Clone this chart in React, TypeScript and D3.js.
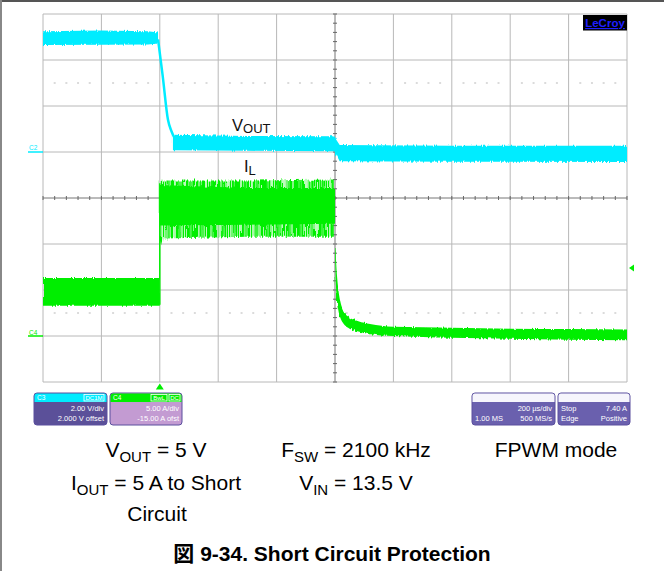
import React from 'react';
import * as d3 from 'd3';

const W = 664;
const H = 571;

// Axis domains (scope settings): 200 µs/div, C3 2 V/div (offset 2 V), C4 5 A/div (offset -15 A)
const TIME_DOMAIN = [-400, 1600];
const VOLT_DOMAIN = [-10, 6];
const AMP_DOMAIN = [-5, 35];
const TIME_GRID = [-400, -200, 0, 200, 400, 600, 800, 1000, 1200, 1400, 1600];
const VOLT_GRID = [-10, -8, -6, -4, -2, 0, 2, 4, 6];
const DOT_LEVELS_V = [3, -7];
const TRIGGER_LEVEL_A = 7.4;

// VOUT (C3) envelopes: [time µs, max V, min V]
const VOUT_PRE = [[-400, 5.25, 4.65], [-200, 5.28, 4.66], [-40, 5.25, 4.67], [-6, 5.2, 4.72]];
const VOUT_DROP = [[-6, 4.9], [10, 3.3], [28, 1.4], [40, 0.9], [50, 0.62], [62, 0.45]];
const VOUT_POST = [[45, 0.75, 0.08], [300, 0.7, 0.05], [598, 0.68, 0.03], [606, 0.5, -0.15], [616, 0.3, -0.4], [1000, 0.27, -0.42], [1600, 0.27, -0.44]];

// IL (C4) envelopes: [time µs, max A, min A]
const IL_PRE = [[-400, 6.3, 3.3], [0, 6.3, 3.3]];
const IL_RISE = [[0, 3.4], [0, 16.6]];
const IL_SHORT_OUTER = [[0, 16.8, 9.3], [10, 16.9, 10.6], [300, 16.9, 10.8], [600, 17.0, 10.8]];
const IL_SHORT_INNER = [[0, 16.4, 12.0], [300, 16.1, 12.1], [600, 16.1, 12.2]];
const IL_DECAY = [
  [600, 11.0, 9.0], [604, 8.0, 5.0], [610, 5.5, 3.0], [618, 3.8, 2.0], [630, 2.7, 1.3],
  [650, 2.0, 0.8], [680, 1.6, 0.5], [720, 1.3, 0.2], [800, 1.0, 0.0], [900, 0.95, -0.1],
  [1000, 0.9, -0.2], [1200, 0.8, -0.3], [1400, 0.75, -0.4], [1600, 0.7, -0.45],
];

const CYAN = '#00ecff';
const GREEN = '#00ee00';
const FONT = '"Liberation Sans", Arial, sans-serif';

export default function App() {
  const x = d3.scaleLinear().domain(TIME_DOMAIN).range([43, 627]);
  const yV = d3.scaleLinear().domain(VOLT_DOMAIN).range([382, 14]);
  const yI = d3.scaleLinear().domain(AMP_DOMAIN).range([382, 14]);

  const areaV = d3.area<number[]>().x(d => x(d[0])).y0(d => yV(d[2])).y1(d => yV(d[1]));
  const areaI = d3.area<number[]>().x(d => x(d[0])).y0(d => yI(d[2])).y1(d => yI(d[1]));
  const lineV = d3.line<number[]>().x(d => x(d[0])).y(d => yV(d[1])).curve(d3.curveMonotoneX);
  const lineI = d3.line<number[]>().x(d => x(d[0])).y(d => yI(d[1]));
  const areaIDecay = d3.area<number[]>().x(d => x(d[0])).y0(d => yI(d[2])).y1(d => yI(d[1])).curve(d3.curveMonotoneX);

  const minorT = d3.range(TIME_DOMAIN[0], TIME_DOMAIN[1] + 1, 40);
  const minorV = d3.range(VOLT_DOMAIN[0], VOLT_DOMAIN[1] + 0.01, 0.4);
  const centerT = 600;
  const centerV = -2;
  const left = x(TIME_DOMAIN[0]), right = x(TIME_DOMAIN[1]);
  const top = yV(VOLT_DOMAIN[1]), bottom = yV(VOLT_DOMAIN[0]);

  const box = (bx: number, by: number, bw: number, header: string, body: string) => (
    <g>
      <rect x={bx} y={by} width={bw} height={32} rx={3} fill={body} stroke="#5a4f9e" strokeWidth={1} />
      <path d={`M${bx + 0.5},${by + 9} V${by + 3} a2.5,2.5 0 0 1 2.5,-2.5 H${bx + bw - 3} a2.5,2.5 0 0 1 2.5,2.5 V${by + 9} Z`} fill={header} />
    </g>
  );
  const smallText = { fontFamily: FONT, fontSize: 7.5, fill: '#ffffff' } as const;

  return (
    <svg width={W} height={H} style={{ position: 'absolute', left: 0, top: 0, background: '#fff' }}>
      <defs>
        <filter id="noise" filterUnits="userSpaceOnUse" x={0} y={0} width={W} height={H}>
          <feTurbulence type="fractalNoise" baseFrequency="0.9 0.04" numOctaves={1} seed={3} result="t" />
          <feDisplacementMap in="SourceGraphic" in2="t" scale={4} xChannelSelector="R" yChannelSelector="G" />
        </filter>
        <filter id="noise2" filterUnits="userSpaceOnUse" x={0} y={0} width={W} height={H}>
          <feTurbulence type="fractalNoise" baseFrequency="0.7 0.03" numOctaves={1} seed={7} result="t" />
          <feDisplacementMap in="SourceGraphic" in2="t" scale={6} xChannelSelector="R" yChannelSelector="G" />
        </filter>
        <pattern id="spikes" width={2.2} height={10} patternUnits="userSpaceOnUse">
          <rect width={1.6} height={10} fill={GREEN} />
        </pattern>
      </defs>

      {/* outer frame */}
      <line x1={0} x2={W} y1={1} y2={1} stroke="#555" strokeWidth={2} />
      <line x1={1} x2={1} y1={0} y2={H} stroke="#888" strokeWidth={2} />

      {/* grid */}
      <g stroke="#b8b8b8" strokeWidth={1}>
        {TIME_GRID.map(t => (
          <line key={'gx' + t} x1={x(t)} x2={x(t)} y1={top} y2={bottom} stroke={t === centerT ? '#777' : undefined} />
        ))}
        {VOLT_GRID.map(v => (
          <line key={'gy' + v} x1={left} x2={right} y1={yV(v)} y2={yV(v)} stroke={v === centerV ? '#777' : undefined} />
        ))}
      </g>
      <g stroke="#666" strokeWidth={1}>
        {minorT.map(t => (
          <line key={'mt' + t} x1={x(t)} x2={x(t)} y1={yV(centerV) - 2} y2={yV(centerV) + 2} />
        ))}
        {minorV.map(v => (
          <line key={'mv' + v} x1={x(centerT) - 2} x2={x(centerT) + 2} y1={yV(v)} y2={yV(v)} />
        ))}
      </g>
      <g fill="#c4c4c4">
        {DOT_LEVELS_V.map(lv =>
          minorT.filter(t => (t - TIME_DOMAIN[0]) % 200 !== 0).map(t => (
            <rect key={'d' + lv + t} x={x(t) - 1} y={yV(lv) - 0.6} width={2} height={1.2} />
          ))
        )}
      </g>

      {/* VOUT trace */}
      <g filter="url(#noise)">
        <path d={areaV(VOUT_PRE) || ''} fill={CYAN} />
        <path d={areaV(VOUT_POST) || ''} fill={CYAN} />
      </g>
      <path d={lineV(VOUT_DROP) || ''} fill="none" stroke={CYAN} strokeWidth={2.5} />

      {/* IL trace */}
      <g filter="url(#noise)">
        <path d={areaI(IL_PRE) || ''} fill={GREEN} />
      </g>
      <g filter="url(#noise2)">
        <path d={areaI(IL_SHORT_OUTER) || ''} fill="url(#spikes)" />
      </g>
      <g filter="url(#noise)">
        <path d={areaI(IL_SHORT_INNER) || ''} fill={GREEN} />
        <path d={areaIDecay(IL_DECAY) || ''} fill={GREEN} />
      </g>
      <path d={lineI(IL_RISE) || ''} fill="none" stroke={GREEN} strokeWidth={1.5} />

      {/* trace labels */}
      <text x={232} y={131} fontFamily={FONT} fontSize={16.5} fill="#111">
        V<tspan fontSize={13} dy={2}>OUT</tspan>
      </text>
      <text x={244} y={172} fontFamily={FONT} fontSize={16.5} fill="#111">
        I<tspan fontSize={13} dy={3}>L</tspan>
      </text>

      {/* channel markers */}
      <text x={29} y={150} fontFamily={FONT} fontSize={6.5} fill={CYAN}>C2</text>
      <line x1={28} x2={43} y1={yV(0)} y2={yV(0)} stroke={CYAN} strokeWidth={1.5} />
      <text x={29} y={335} fontFamily={FONT} fontSize={6.5} fill={GREEN}>C4</text>
      <line x1={28} x2={43} y1={yI(0)} y2={yI(0)} stroke={GREEN} strokeWidth={1.5} />
      <path d={`M${right + 2},${yI(TRIGGER_LEVEL_A)} l5,-3.5 v7 Z`} fill={GREEN} />
      <path d={`M${x(0)},${bottom + 1.5} l-4,6 h8 Z`} fill={GREEN} />

      {/* LeCroy logo */}
      <rect x={583} y={15} width={44} height={15.5} fill="#000" />
      <text x={605} y={27} textAnchor="middle" fontFamily={FONT} fontSize={11.5} fontWeight="bold" fill="#1f1fff" textDecoration="underline">LeCroy</text>

      {/* info boxes */}
      {box(34, 393, 73, CYAN, '#5b5099')}
      <text x={37} y={400} {...smallText} fontSize={6.5}>C3</text>
      <rect x={84} y={394.5} width={20} height={6.5} fill="none" stroke="#fff" strokeWidth={0.8} />
      <text x={94} y={400} textAnchor="middle" {...smallText} fontSize={6}>DC1M</text>
      <text x={104} y={411} textAnchor="end" {...smallText}>2.00 V/div</text>
      <text x={104} y={420.5} textAnchor="end" {...smallText}>2.000 V offset</text>

      {box(110, 393, 72, GREEN, '#c39bd2')}
      <text x={113} y={400} {...smallText} fontSize={6.5}>C4</text>
      <rect x={151} y={394.5} width={16} height={6.5} fill="none" stroke="#fff" strokeWidth={0.8} />
      <text x={159} y={400} textAnchor="middle" {...smallText} fontSize={6}>BwL</text>
      <rect x={169} y={394.5} width={11} height={6.5} fill="none" stroke="#fff" strokeWidth={0.8} />
      <text x={174.5} y={400} textAnchor="middle" {...smallText} fontSize={6}>DC</text>
      <text x={179} y={411} textAnchor="end" {...smallText}>5.00 A/div</text>
      <text x={179} y={420.5} textAnchor="end" {...smallText}>-15.00 A ofst</text>

      {box(472, 393, 83, '#f6f5fc', '#6a60ae')}
      <text x={552} y={411} textAnchor="end" {...smallText}>200 µs/div</text>
      <text x={475} y={420.5} {...smallText}>1.00 MS</text>
      <text x={552} y={420.5} textAnchor="end" {...smallText}>500 MS/s</text>

      {box(558, 393, 72, '#f6f5fc', '#6a60ae')}
      <text x={561} y={411} {...smallText}>Stop</text>
      <text x={627} y={411} textAnchor="end" {...smallText}>7.40 A</text>
      <text x={561} y={420.5} {...smallText}>Edge</text>
      <text x={627} y={420.5} textAnchor="end" {...smallText}>Positive</text>

      {/* conditions */}
      <g fontFamily={FONT} fontSize={21} fill="#000" textAnchor="middle">
        <text x={156} y={457}>V<tspan fontSize={15} dy={5}>OUT</tspan><tspan dy={-5}> = 5 V</tspan></text>
        <text x={356} y={457}>F<tspan fontSize={15} dy={5}>SW</tspan><tspan dy={-5}> = 2100 kHz</tspan></text>
        <text x={556} y={457}>FPWM mode</text>
        <text x={156} y={490}>I<tspan fontSize={15} dy={5}>OUT</tspan><tspan dy={-5}> = 5 A to Short</tspan></text>
        <text x={356} y={490}>V<tspan fontSize={15} dy={5}>IN</tspan><tspan dy={-5}> = 13.5 V</tspan></text>
        <text x={157} y={521}>Circuit</text>
      </g>
      <text x={332} y={561} textAnchor="middle" fontFamily={'"Liberation Sans", "Noto Sans CJK JP", Arial, sans-serif'} fontSize={21} fontWeight="bold" fill="#000">図 9-34. Short Circuit Protection</text>
    </svg>
  );
}
